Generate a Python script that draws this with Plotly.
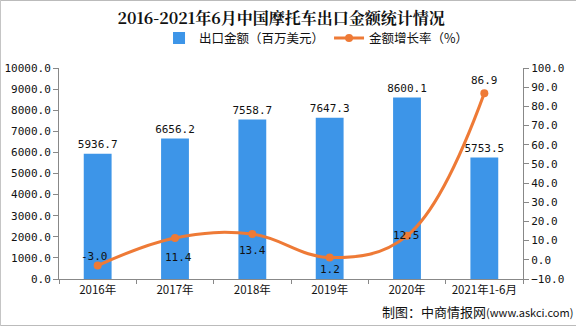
import plotly.graph_objects as go

categories = ["2016年", "2017年", "2018年", "2019年", "2020年", "2021年1-6月"]
export_value = [5936.7, 6656.2, 7558.7, 7647.3, 8600.1, 5753.5]
growth_rate = [-3.0, 11.4, 13.4, 1.2, 12.5, 86.9]

# label offsets (style only, pixels)
rate_label_yshift = [9, -20, -16, -12, 0, 13]
rate_label_xshift = [-3, 3, 0, 0, -1, 0]

BLUE = "#3D95E8"
ORANGE = "#EE7A36"
NUMFONT = "DejaVu Sans Mono, Noto Sans CJK SC, monospace"
CJK = "Noto Sans CJK SC, sans-serif"

fig = go.Figure()
fig.add_trace(go.Bar(
    x=categories, y=export_value, name="出口金额（百万美元）",
    marker=dict(color=BLUE, line=dict(width=0)), width=0.36,
    text=[f"{v:.1f}" for v in export_value], textposition="outside", constraintext="none",
    textfont=dict(size=11, color="#111", family=NUMFONT), cliponaxis=False,
))
fig.add_trace(go.Scatter(
    x=categories, y=growth_rate, name="金额增长率（%）", yaxis="y2",
    mode="lines+markers", line=dict(color=ORANGE, width=3, shape="spline", smoothing=1.1),
    marker=dict(color=ORANGE, size=8), cliponaxis=False,
))
for c, v, dy, dx in zip(categories, growth_rate, rate_label_yshift, rate_label_xshift):
    fig.add_annotation(x=c, y=v, yref="y2", text=f"{v:.1f}", showarrow=False,
                       yshift=dy, xshift=dx, font=dict(size=11, color="#111", family=NUMFONT))

fig.update_layout(
    width=576, height=326,
    margin=dict(l=59, r=53, t=68, b=47, autoexpand=False),
    paper_bgcolor="white", plot_bgcolor="white",
    font=dict(family=CJK, size=11, color="#111"),
    title=dict(text="<b>2016-2021年6月中国摩托车出口金额统计情况</b>", x=0.488, xanchor="center",
               y=0.945, yanchor="middle",
               font=dict(size=16, color="#111", family="Noto Serif CJK SC, Noto Sans CJK SC, serif")),
    legend=dict(orientation="h", x=0.555, xanchor="center", y=1.14, yanchor="middle",
                font=dict(size=12.5, family=CJK), bgcolor="rgba(0,0,0,0)", itemwidth=30),
    xaxis=dict(showline=True, linecolor="#888", linewidth=1, ticks="outside", tickson="boundaries",
               ticklen=4, tickcolor="#888", tickfont=dict(size=11.5, family=CJK), showgrid=False,
               tickangle=0, automargin=False),
    yaxis=dict(range=[0, 10000], dtick=1000, tickformat=".1f", showline=True, linecolor="#888",
               ticks="outside", ticklen=5, tickcolor="#888", showgrid=False, zeroline=False,
               tickfont=dict(size=11, family=NUMFONT), automargin=False),
    yaxis2=dict(range=[-10, 100], dtick=10, tickformat=".1f", overlaying="y", side="right",
                showline=True, linecolor="#888", ticks="outside", ticklen=5, tickcolor="#888",
                showgrid=False, zeroline=False, tickfont=dict(size=11, family=NUMFONT), automargin=False),
    showlegend=True,
)
fig.add_annotation(text="制图：中商情报网<span style='font-size:11px'>(www.askci.com)</span>",
                   xref="paper", yref="paper", x=1.111, y=-0.1, xanchor="right", yanchor="top",
                   showarrow=False, font=dict(size=13, color="#111", family=CJK))
fig.add_shape(type="rect", xref="paper", yref="paper", x0=-0.1264, x1=1.1156, y0=-0.2204, y1=1.3199,
              line=dict(color="#bbb", width=1), layer="above")
fig.write_html("out.html")
